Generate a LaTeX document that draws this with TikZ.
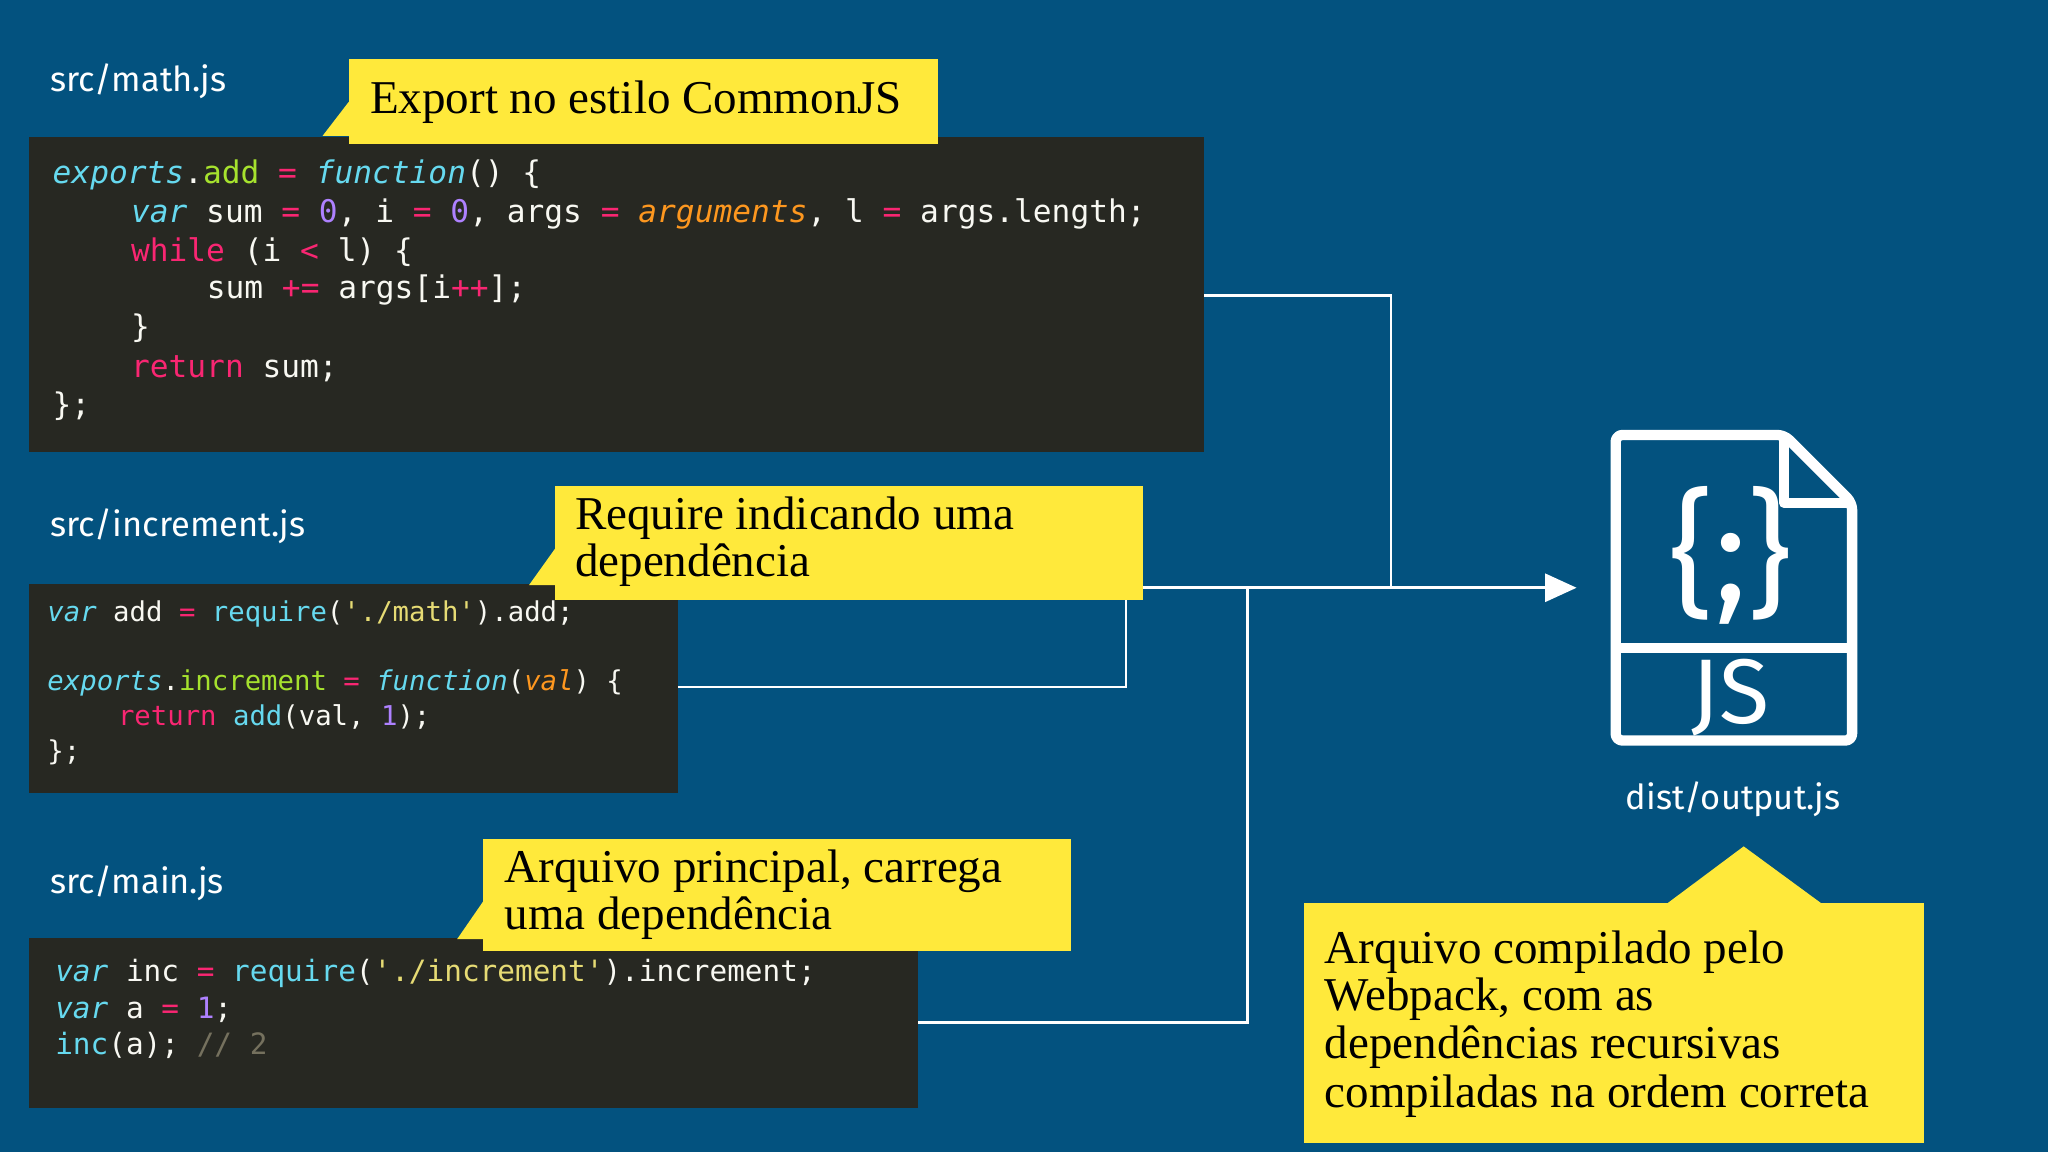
\documentclass[tikz,border=0pt]{standalone}
\usepackage{fontspec}
\setmainfont{Liberation Serif}
\newfontfamily\codefont{DejaVu Sans Mono}
\newfontfamily\labfont{Fira Sans}
\definecolor{bgblue}{HTML}{03527F}
\definecolor{codebg}{HTML}{272822}
\definecolor{callout}{HTML}{FFE93B}
\definecolor{mcyan}{HTML}{66D9EF}
\definecolor{mgreen}{HTML}{A6E22E}
\definecolor{mpink}{HTML}{F92672}
\definecolor{mpurple}{HTML}{AE81FF}
\definecolor{morange}{HTML}{FD971F}
\definecolor{mwhite}{HTML}{F8F8F2}
\definecolor{mcomment}{HTML}{75715E}
\definecolor{mstr}{HTML}{E6DB74}
\newcommand\kc[1]{\textcolor{mcyan}{\itshape #1}}
\newcommand\kcu[1]{\textcolor{mcyan}{#1}}
\newcommand\kg[1]{\textcolor{mgreen}{#1}}
\newcommand\kp[1]{\textcolor{mpink}{#1}}
\newcommand\ku[1]{\textcolor{mpurple}{#1}}
\newcommand\ko[1]{\textcolor{morange}{\itshape #1}}
\newcommand\ks[1]{\textcolor{mstr}{#1}}
\newcommand\kcm[1]{\textcolor{mcomment}{#1}}
\tikzset{
  codeline/.style={anchor=west,inner sep=0,text=mwhite,font=\codefont\fontsize{13.6}{15}\selectfont},
  codelineb/.style={codeline,font=\codefont\fontsize{11.9}{14}\selectfont},
  codelinec/.style={codeline,font=\codefont\fontsize{12.8}{14}\selectfont},
  filelab/.style={anchor=west,inner sep=0,text=white,font=\labfont\fontsize{15}{18}\selectfont},
  calltext/.style={anchor=west,inner sep=0,text=black,font=\fontsize{20.5}{24}\selectfont},
  codebox/.style={fill=codebg,draw=none},
  callbox/.style={fill=callout,draw=none},
  conn/.style={draw=white,line width=1.2pt},
}
\begin{document}
\begin{tikzpicture}[x=0.02cm,y=-0.02cm]
\fill[bgblue] (0,0) rectangle (1568,882);
\useasboundingbox (0,0) rectangle (1568,882);

% file labels
\node[filelab] (l1) at (38,62) {src/math.js};
\node[filelab] (l2) at (38,403) {src/increment.js};
\node[filelab] (l3) at (38,676) {src/main.js};

% code box 1
\path[codebox] (22,105) rectangle (922,346);
\node[codeline] at (40,134) {\kc{exports}.\kg{add} \kp{=} \kc{function}() \{};
\node[codeline] at (100,164) {\kc{var} sum \kp{=} \ku{0}, i \kp{=} \ku{0}, args \kp{=} \ko{arguments}, l \kp{=} args.length;};
\node[codeline] at (100,193) {\kp{while} (i \kp{<} l) \{};
\node[codeline] at (158,222) {sum \kp{+=} args[i\kp{++}];};
\node[codeline] at (100,251) {\}};
\node[codeline] at (100,282) {\kp{return} sum;};
\node[codeline] at (40,311) {\};};

% callout 1
\fill[callout] (267,78) -- (247,104) -- (290,104) -- cycle;
\path[callbox] (267,45) rectangle (718,110);
\node[calltext] (c1) at (283,78) {Export no estilo CommonJS};

% code box 2
\path[codebox] (22,447) rectangle (519,607);
\node[codelineb] at (36,470) {\kc{var} add \kp{=} \kcu{require}(\ks{'./math'}).add;};
\node[codelineb] at (36,523) {\kc{exports}.\kg{increment} \kp{=} \kc{function}(\ko{val}) \{};
\node[codelineb] at (90,549) {\kp{return} \kcu{add}(val, \ku{1});};
\node[codelineb] at (36,576) {\};};

% callout 2
\fill[callout] (425,420) -- (405,448) -- (450,448) -- cycle;
\path[callbox] (425,372) rectangle (875,459);
\node[calltext] at (440,397) {Require indicando uma};
\node[calltext] at (440,433) {dependência};

% code box 3
\path[codebox] (22,718) rectangle (703,848);
\node[codelinec] at (42,745) {\kc{var} inc \kp{=} \kcu{require}(\ks{'./increment'}).increment;};
\node[codelinec] at (42,773) {\kc{var} a \kp{=} \ku{1};};
\node[codelinec] at (42,800) {\kcu{inc}(a); \kcm{// 2}};

% callout 3
\fill[callout] (370,690) -- (350,719) -- (395,719) -- cycle;
\path[callbox] (370,642) rectangle (820,728);
\node[calltext] at (386,667) {Arquivo principal, carrega};
\node[calltext] at (386,703) {uma dependência};

% named anchors for connectors
\coordinate (o1) at (922,226);
\coordinate (o2) at (519,526);
\coordinate (o3) at (703,783);
\coordinate (c2r) at (875,450);
\coordinate (c2b) at (862,459);
\draw[conn] (o1) -| (1065,450);
\draw[conn] (o2) -| (c2b);
\draw[conn] (o3) -| (955,450);
\draw[conn] (c2r) -- (1185,450);
\fill[white] (1207,450) -- (1183,439) -- (1183,461) -- cycle;

% JS file icon
\draw[white,line width=4.5pt,line join=round,rounded corners=3pt] (1237,333) -- (1366,333) -- (1418,385) -- (1418,567) -- (1237,567) -- cycle;
\draw[white,line width=4.5pt,line join=round] (1366,333) -- (1366,385) -- (1418,385);
\draw[white,line width=4.5pt] (1237,496) -- (1418,496);
\node[text=white,font=\labfont\fontsize{60}{64}\selectfont,inner sep=0] (brace) at (1325,425) {\{;\}};
\node[text=white,font=\labfont\fontsize{40}{44}\selectfont,inner sep=0] (js) at (1325,534) {JS};
\node[text=white,font=\labfont\fontsize{15}{18}\selectfont,inner sep=0] (out) at (1327,612) {dist/output.js};

% callout 4
\fill[callout] (1276,692) -- (1335,648) -- (1395,692) -- cycle;
\path[callbox] (998,691) rectangle (1473,875);
\node[calltext] at (1014,729) {Arquivo compilado pelo};
\node[calltext] at (1014,765) {Webpack, com as};
\node[calltext] at (1014,802) {dependências recursivas};
\node[calltext] at (1014,839) {compiladas na ordem correta};
\end{tikzpicture}
\end{document}
